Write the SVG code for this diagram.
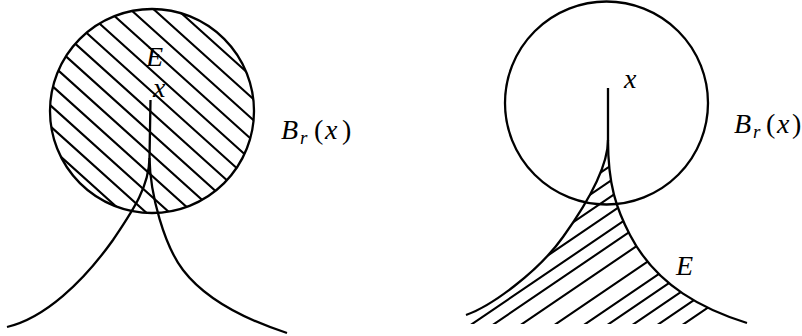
<svg xmlns="http://www.w3.org/2000/svg" width="802" height="336" viewBox="0 0 802 336">
  <style>
    .ln { fill: none; stroke: #000; stroke-width: 2.3; stroke-linecap: butt; }
    .ht { fill: none; stroke: #000; stroke-width: 2.1; }
    .lbl { font-family: "Liberation Serif", "DejaVu Serif", serif; font-style: italic; font-size: 28px; fill: #000; }
    .up { font-style: normal; }
    .sub { font-size: 19px; }
  </style>
  <defs>
    <clipPath id="clipBall">
      <circle cx="152" cy="111" r="102"/>
    </clipPath>
    <clipPath id="clipE">
      <path d="M608,138 C608,185 616.5,209 630,235 C657,287 705.4,310 747,323 L747,324 L466,324 L466,315 C491.5,306 538,272 563,237 C582.6,209.7 608,170 608,138 Z"/>
    </clipPath>
  </defs>
  <rect width="802" height="336" fill="#fff"/>

  <g id="left-figure">
    <g id="left-hatch" clip-path="url(#clipBall)">
      <path class="ht" d="M40,-114 L270,93 M40,-93 L270,114 M40,-72 L270,135 M40,-51 L270,156 M40,-30 L270,177 M40,-9 L270,198 M40,12 L270,219 M40,33 L270,240 M40,54 L270,261 M40,75 L270,282 M40,96 L270,303 M40,117 L270,324 M40,138 L270,345"/>
    </g>
    <circle id="left-ball" class="ln" cx="152" cy="111" r="102"/>
    <g id="left-cusp">
      <path class="ln" d="M150.5,100 L149.5,158 C149,188 131,213 113,240 C83,282 45,318 7,327"/>
      <path class="ln" d="M149.5,158 C150,195 164.6,246 183,270 C206,300 247,320 287,333"/>
    </g>
    <text class="lbl" x="146" y="66">E</text>
    <text class="lbl" x="153" y="97">x</text>
    <text class="lbl" x="281" y="139">B<tspan class="sub" x="300" y="144">r</tspan><tspan class="up" x="314" y="139">(</tspan><tspan x="325" y="139">x</tspan><tspan class="up" x="342" y="139">)</tspan></text>
  </g>

  <g id="right-figure">
    <g id="right-hatch" clip-path="url(#clipE)">
      <path class="ht" d="M440,281.8 L760,64.2 M440,296.8 L760,79.2 M440,312.8 L760,95.2 M440,328.8 L760,111.2 M440,345.8 L760,128.2 M440,360.8 L760,143.2 M440,379.8 L760,162.2 M440,402.8 L760,185.2 M440,422.8 L760,205.2 M440,438.8 L760,221.2 M440,455.8 L760,238.2 M440,472.8 L760,255.2 M440,489.8 L760,272.2"/>
    </g>
    <circle id="right-ball" class="ln" cx="606.5" cy="103" r="101.5"/>
    <g id="right-cusp">
      <path class="ln" d="M608,88 L608,140 C608,170 582.6,209.7 563,237 C538,272 491.5,306 466,315"/>
      <path class="ln" d="M608,140 C608,185 616.5,209 630,235 C657,287 705.4,310 747,323"/>
    </g>
    <text class="lbl" x="624" y="88">x</text>
    <text class="lbl" x="676" y="275">E</text>
    <text class="lbl" x="734" y="133">B<tspan class="sub" x="753" y="138">r</tspan><tspan class="up" x="766" y="133">(</tspan><tspan x="777" y="133">x</tspan><tspan class="up" x="792" y="133">)</tspan></text>
  </g>
</svg>
